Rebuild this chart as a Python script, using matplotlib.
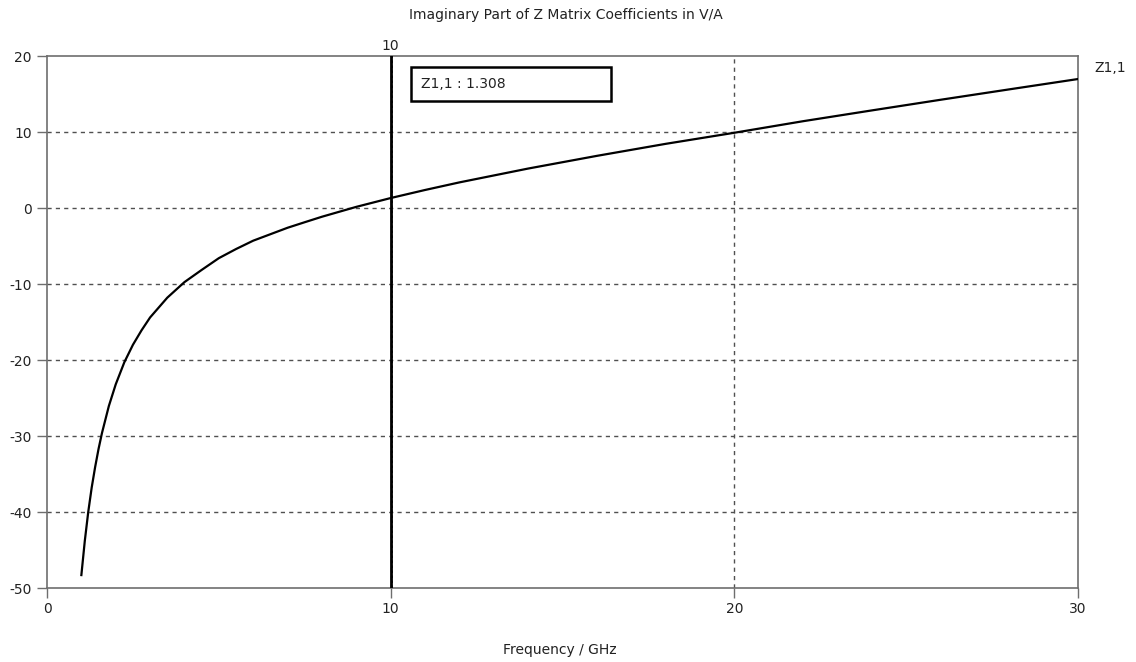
import matplotlib
matplotlib.use('Agg')
import matplotlib.pyplot as plt
from matplotlib.patches import Rectangle

# values
freq = [1.0, 1.1, 1.2, 1.3, 1.4, 1.5, 1.6, 1.8, 2.0, 2.25, 2.5, 2.75, 3.0, 3.5, 4.0,
        4.5, 5.0, 5.5, 6.0, 6.5, 7.0, 7.5, 8.0, 9.0, 10.0, 11.0, 12.0, 14.0, 16.0,
        18.0, 20.0, 22.0, 24.0, 26.0, 28.0, 30.0]
z11_imag = [-48.3, -43.8, -40.0, -36.8, -34.1, -31.7, -29.6, -26.05, -23.2, -20.3, -18.0,
            -16.1, -14.4, -11.8, -9.75, -8.15, -6.6, -5.4, -4.3, -3.45, -2.6, -1.87, -1.15,
            0.15, 1.31, 2.37, 3.37, 5.19, 6.86, 8.44, 9.9, 11.42, 12.84, 14.24, 15.61, 16.97]
marker_f = 10
marker_label = 'Z1,1 : 1.308'
xticks = [0, 10, 20, 30]
yticks = [-50, -40, -30, -20, -10, 0, 10, 20]

plt.rcParams['font.family'] = ['DejaVu Sans']
plt.rcParams['axes.unicode_minus'] = False
fig = plt.figure(figsize=(11.36, 6.62), dpi=100)
ax = fig.add_axes([47 / 1136, 1 - 588 / 662, (1078 - 47) / 1136, (588 - 56) / 662])

grey = '#6e6e6e'
txt = '#222222'
fs = 10

# gridlines (dashed)
for y in yticks[1:-1]:
    ax.axhline(y, color='#505050', lw=1, ls=(0, (3, 3)), zorder=1)
for x in xticks[1:-1]:
    ax.axvline(x, color='#505050', lw=1, ls=(0, (3, 3)), zorder=1)

ax.plot(freq, z11_imag, color='black', lw=1.6, zorder=3, solid_joinstyle='round')

# marker line
ax.axvline(marker_f, color='black', lw=2.0, zorder=4)
ax.axvline(marker_f + 0.03, color='black', lw=1.2, ls=(0, (1.5, 1.5)), zorder=4)
ax.text(marker_f, 20.4, str(marker_f), ha='center', va='bottom', fontsize=fs, color=txt)

# marker readout box
ax.add_patch(Rectangle((10.6, 14.1), 5.82, 4.45, fc='white', ec='black', lw=1.8, zorder=5))
ax.text(10.88, 16.35, marker_label, ha='left', va='center', fontsize=fs, color=txt, zorder=6)

ax.text(1.016, (z11_imag[-1] + 50) / 70 + 0.02, 'Z1,1', transform=ax.transAxes,
        ha='left', va='center', fontsize=fs, color=txt)

ax.set_xlim(0, 30)
ax.set_ylim(-50, 20)
ax.set_xticks(xticks)
ax.set_yticks(yticks)
ax.tick_params(axis='both', colors=grey, labelcolor=txt, labelsize=fs, length=7, width=1)
ax.tick_params(axis='x', pad=3)
ax.tick_params(axis='y', pad=4)
for s in ax.spines.values():
    s.set_color(grey)
    s.set_linewidth(1.2)

fig.text(566 / 1136, 1 - 15 / 662, 'Imaginary Part of Z Matrix Coefficients in V/A',
         ha='center', va='center', fontsize=fs, color=txt)
fig.text(560 / 1136, 1 - 650 / 662, 'Frequency / GHz', ha='center', va='center',
         fontsize=fs, color=txt)

fig.savefig('out.png', dpi=100, facecolor='white')
